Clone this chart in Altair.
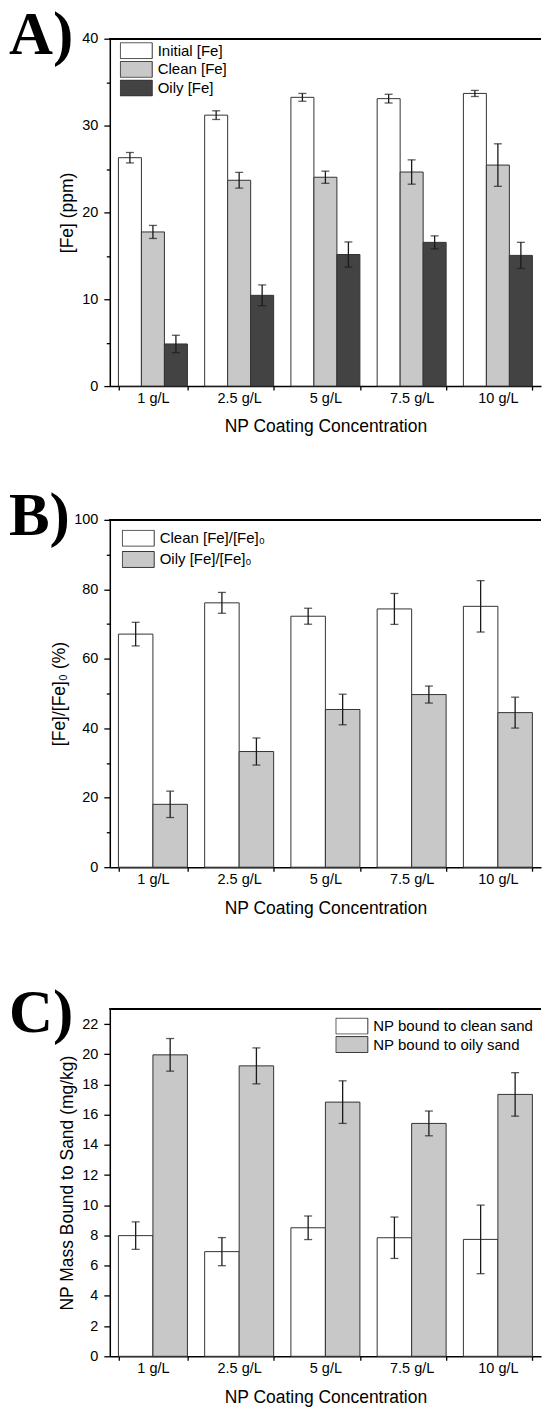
import altair as alt
import pandas as pd

cats = ["1 g/L", "2.5 g/L", "5 g/L", "7.5 g/L", "10 g/L"]

# Panel A: [Fe] (ppm)
a_series = ["Initial [Fe]", "Clean [Fe]", "Oily [Fe]"]
a_initial = [26.3, 31.2, 33.25, 33.1, 33.7]
a_initial_err = [0.6, 0.5, 0.45, 0.5, 0.35]
a_clean = [17.75, 23.7, 24.05, 24.65, 25.45]
a_clean_err = [0.75, 0.9, 0.7, 1.4, 2.45]
a_oily = [4.85, 10.45, 15.15, 16.55, 15.05]
a_oily_err = [1.0, 1.2, 1.45, 0.75, 1.5]

# Panel B: [Fe]/[Fe]0 (%)
b_series = ["Clean [Fe]/[Fe]₀", "Oily [Fe]/[Fe]₀"]
b_clean = [67.1, 76.1, 72.25, 74.35, 75.1]
b_clean_err = [3.4, 3.0, 2.3, 4.45, 7.4]
b_oily = [18.1, 33.3, 45.4, 49.7, 44.5]
b_oily_err = [3.8, 3.9, 4.4, 2.45, 4.45]

# Panel C: NP mass bound to sand (mg/kg)
c_series = ["NP bound to clean sand", "NP bound to oily sand"]
c_clean = [7.99, 6.93, 8.51, 7.85, 7.74]
c_clean_err = [0.91, 0.93, 0.78, 1.37, 2.27]
c_oily = [19.96, 19.23, 16.83, 15.42, 17.34]
c_oily_err = [1.08, 1.19, 1.41, 0.82, 1.44]

FONT = "Liberation Sans"
LETTER_FONT = "Liberation Sans Narrow"
W = 432
H = 348


def make_df(series, values, errors, key):
    rows = []
    for s, vals, errs in zip(series, values, errors):
        for c, v, e in zip(cats, vals, errs):
            rows.append({"cat_" + key: c, "ser_" + key: s, "val_" + key: v,
                         "lo_" + key: v - e, "hi_" + key: v + e})
    return pd.DataFrame(rows)


def panel(df, key, series, fills, ymax, yvalues, major_test, ytitle, letter,
          lx, ly, rowpad):
    x_enc = alt.X(
        f"cat_{key}:N", sort=cats, title="NP Coating Concentration",
        scale=alt.Scale(paddingInner=0.2, paddingOuter=0.1),
        axis=alt.Axis(tickBand="extent", tickSize=4, labelPadding=1,
                      labelAngle=0, titlePadding=13.5),
    )
    xo_enc = alt.XOffset(f"ser_{key}:N", sort=series,
                         scale=alt.Scale(paddingInner=0, paddingOuter=0))
    yscale = alt.Scale(domain=[0, ymax], nice=False, zero=True)
    yaxis = alt.Axis(
        values=yvalues,
        labelExpr=f"({major_test}) ? datum.label : ''",
        tickSize={"condition": {"test": major_test, "value": 6}, "value": 3.5},
        labelPadding=6, titlePadding=5,
    )
    base = alt.Chart(df)
    bars = base.mark_bar(stroke="#333333", strokeWidth=1).encode(
        x=x_enc, xOffset=xo_enc,
        y=alt.Y(f"val_{key}:Q", scale=yscale, axis=yaxis, title=ytitle),
        fill=alt.Fill(
            f"ser_{key}:N", sort=series,
            scale=alt.Scale(domain=series, range=fills),
            legend=alt.Legend(
                title=None, orient="none", legendX=lx, legendY=ly,
                direction="vertical", symbolType="M-1,-0.5H1V0.5H-1Z",
                symbolSize=1024, symbolStrokeColor="#333333",
                symbolStrokeWidth=1, symbolOpacity=1, labelFont=FONT,
                labelFontSize=15, labelColor="#000000", labelOffset=5,
                labelLimit=300, rowPadding=rowpad, padding=0,
                clipHeight=17,
            ),
        ),
    )
    rule = base.mark_rule(color="#1a1a1a", strokeWidth=1.3).encode(
        x=x_enc, xOffset=xo_enc,
        y=alt.Y(f"lo_{key}:Q", scale=yscale, axis=yaxis, title=ytitle),
        y2=f"hi_{key}:Q",
    )
    cap_lo = base.mark_tick(color="#1a1a1a", thickness=1.3, size=8).encode(
        x=x_enc, xOffset=xo_enc,
        y=alt.Y(f"lo_{key}:Q", scale=yscale, axis=yaxis, title=ytitle),
    )
    cap_hi = base.mark_tick(color="#1a1a1a", thickness=1.3, size=8).encode(
        x=x_enc, xOffset=xo_enc,
        y=alt.Y(f"hi_{key}:Q", scale=yscale, axis=yaxis, title=ytitle),
    )
    frame = alt.Chart(df).mark_rule(color="#000000", strokeWidth=1.5).encode(
        x=alt.value(0), x2=alt.value(W), y=alt.value(0)
    )
    return alt.layer(bars, rule, cap_lo, cap_hi, frame).properties(
        width=W, height=H,
        title=alt.TitleParams(
            text=letter, anchor="start", frame="group", orient="top",
            font=LETTER_FONT, fontSize=61, fontWeight="bold",
            color="#000000", dx=-101, dy=36.5, offset=0,
        ),
    )


dfa = make_df(a_series, [a_initial, a_clean, a_oily],
              [a_initial_err, a_clean_err, a_oily_err], "a")
dfb = make_df(b_series, [b_clean, b_oily], [b_clean_err, b_oily_err], "b")
dfc = make_df(c_series, [c_clean, c_oily], [c_clean_err, c_oily_err], "c")

pa = panel(dfa, "a", a_series, ["#ffffff", "#c8c8c8", "#434343"], 40,
           list(range(0, 41, 5)), "datum.value % 10 == 0", "[Fe] (ppm)",
           "A)", 10, 3.5, 1.7)
pb = panel(dfb, "b", b_series, ["#ffffff", "#c8c8c8"], 100,
           list(range(0, 101, 10)), "datum.value % 20 == 0",
           "[Fe]/[Fe]₀ (%)", "B)", 12, 9.9, 4.3)
pc = panel(dfc, "c", c_series, ["#ffffff", "#c8c8c8"], 23,
           list(range(0, 23, 2)), "true",
           "NP Mass Bound to Sand (mg/kg)", "C)", 226, 8.7, 1.5)

inner = alt.vconcat(pa, pb, spacing=50).resolve_scale(
    x="independent", y="independent", fill="independent",
    xOffset="independent").resolve_legend(fill="independent")

chart = alt.vconcat(inner, pc, spacing=65).resolve_scale(
    x="independent", y="independent", fill="independent",
    xOffset="independent").resolve_legend(fill="independent").properties(
    padding={"left": 8, "top": 3.5, "right": 0, "bottom": 0}
).configure_view(
    stroke="transparent"
).configure_axis(
    labelFont=FONT, titleFont=FONT, labelFontSize=14.5, titleFontSize=17.5,
    titleFontWeight="normal", labelColor="#000000", titleColor="#000000",
    domainColor="#000000", domainWidth=1.5, tickColor="#000000",
    tickWidth=1.3, grid=False,
)

chart.save("out.html", embed_options={"renderer": "svg", "actions": False})
